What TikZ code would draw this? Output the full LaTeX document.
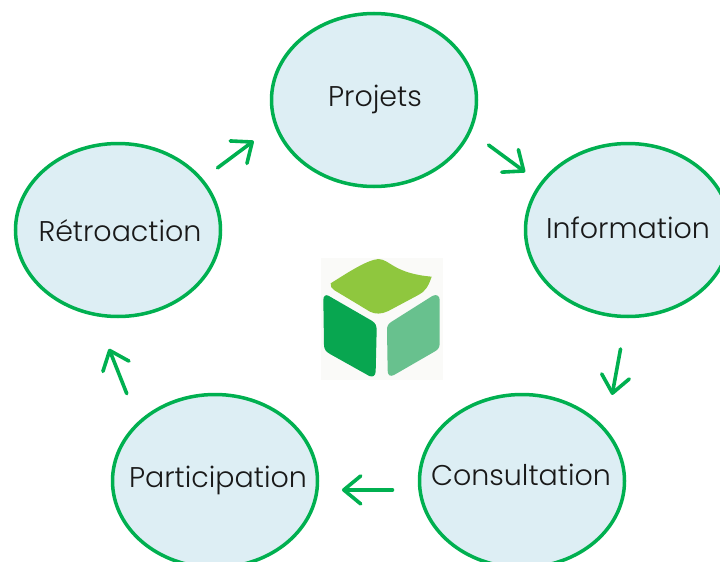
\documentclass[tikz,border=0pt]{standalone}
\usepackage{fontspec}
\setmainfont{Poppins Light}
\usetikzlibrary{arrows.meta,shapes.geometric}
\definecolor{ringgreen}{HTML}{00B050}
\definecolor{bubble}{HTML}{DDEEF4}
\definecolor{logotop}{HTML}{8FC73E}
\definecolor{logoleft}{HTML}{08A650}
\definecolor{logoright}{HTML}{68C18E}
\definecolor{logobg}{HTML}{FAFAF8}
% label set in a zero-width box so that it does not widen the ellipse: #1 x offset, #2 y offset, #3 text
\newcommand{\bubbletext}[3]{\makebox[0pt][c]{\hspace{#1}\raisebox{#2}{#3}}}
\tikzset{
  bubblenode/.style={ellipse,draw=ringgreen,fill=bubble,line width=3.5pt,minimum width=205pt,minimum height=173pt,inner sep=0pt,outer sep=0pt,text height=20pt,text depth=7pt,font=\fontsize{28.5pt}{32pt}\selectfont,text=black!90},
  flow/.style={draw=ringgreen,line width=3.6pt,line cap=round,-{Straight Barb[length=17pt,width=28pt,round]}}
}
\begin{document}
\begin{tikzpicture}[x=1pt,y=-1pt]
\useasboundingbox (0,0) rectangle (720,562);
\clip (0,0) rectangle (720,562);
\fill[white] (0,0) rectangle (720,562);
\node[bubblenode] (projets) at (374,100) {\bubbletext{2pt}{0pt}{Projets}};
\node[bubblenode] (information) at (628,230) {\bubbletext{0pt}{-2pt}{Information}};
\node[bubblenode] (consultation) at (522,481) {\bubbletext{-2pt}{2pt}{Consultation}};
\node[bubblenode] (participation) at (215,481) {\bubbletext{6pt}{0pt}{Participation}};
\node[bubblenode] (retroaction) at (118,230) {\bubbletext{4pt}{-5pt}{Rétroaction}};
\draw[flow,shorten <=23.5pt,shorten >=20pt] (projets.-18) -- (information.152.5);
\draw[flow,shorten <=33pt,shorten >=36.5pt] (information.269.7) -- (consultation.31.6);
\draw[flow,shorten <=27.6pt,shorten >=25pt] (consultation.185.07) -- (participation.-5.07);
\draw[flow,shorten <=32pt,shorten >=37pt] (participation.143.2) -- (retroaction.255.4);
\draw[flow,shorten <=20pt,shorten >=27.5pt] (retroaction.31.3) -- (projets.194.4);
\fill[logobg] (321,258) rectangle (443,380);
\begin{scope}[shift={(310,250)},scale=1/3]
\fill[logotop] (62,100) .. controls (110,70) and (170,30) .. (205,27) .. controls (240,28) and (250,70) .. (365,80) .. controls (355,110) and (345,125) .. (325,135) -- (235,183) .. controls (215,193) and (195,193) .. (180,185) -- (72,120) .. controls (65,115) and (60,108) .. (62,100) -- cycle;
\fill[logoleft] (55,137) -- (185,212) .. controls (197,219) and (200,228) .. (200,240) -- (197,365) .. controls (196,378) and (188,382) .. (178,378) -- (60,312) .. controls (48,305) and (42,298) .. (42,285) -- (40,150) .. controls (40,138) and (47,133) .. (55,137) -- cycle;
\fill[logoright] (245,215) -- (367,138) .. controls (380,131) and (389,138) .. (389,150) -- (389,280) .. controls (389,292) and (385,298) .. (375,304) -- (252,375) .. controls (240,381) and (233,375) .. (233,362) -- (231,240) .. controls (231,228) and (235,221) .. (245,215) -- cycle;
\end{scope}
\end{tikzpicture}
\end{document}
